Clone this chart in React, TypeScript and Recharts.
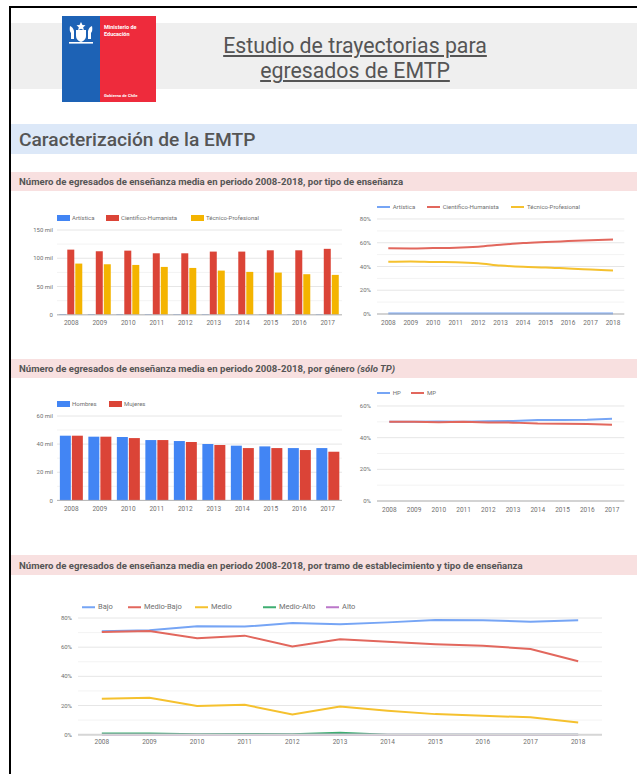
import React from 'react';
import { BarChart, Bar, LineChart, Line, XAxis, YAxis, CartesianGrid } from 'recharts';

// ---------- DATA ----------
const years = ['2008', '2009', '2010', '2011', '2012', '2013', '2014', '2015', '2016', '2017'];
const years11 = ['2008', '2009', '2010', '2011', '2012', '2013', '2014', '2015', '2016', '2017', '2018'];

// Chart 1: egresados por tipo de enseñanza (miles)
const artistica = [1.1, 1.0, 1.0, 0.9, 0.9, 0.9, 0.8, 0.8, 0.8, 0.8];
const cientificoHumanista = [115.3, 112.4, 113.5, 108.8, 108.8, 111.8, 111.8, 114.1, 114.1, 116.7];
const tecnicoProfesional = [90.6, 89.4, 88.2, 84.7, 82.9, 78.2, 75.9, 74.7, 71.8, 70.6];

// Chart 2: % por tipo de enseñanza
const artisticaPct = [0.5, 0.5, 0.5, 0.5, 0.5, 0.5, 0.5, 0.5, 0.5, 0.5, 0.5];
const cientificoHumanistaPct = [55.3, 55.2, 55.5, 55.8, 56.7, 58.3, 59.7, 60.6, 61.4, 62.2, 62.8];
const tecnicoProfesionalPct = [43.9, 44.2, 43.8, 43.6, 42.8, 40.8, 39.7, 39.2, 38.3, 37.5, 36.7];

// Chart 3: por género (sólo TP, miles)
const hombres = [46.0, 45.3, 45.1, 42.9, 42.2, 40.1, 38.9, 38.4, 37.2, 37.2];
const mujeres = [46.0, 45.3, 44.3, 42.9, 41.5, 39.4, 37.2, 37.2, 35.8, 34.6];

// Chart 4: % por género
const hpPct = [50.0, 50.0, 50.2, 50.0, 50.4, 50.5, 51.1, 51.2, 51.3, 51.9];
const mpPct = [50.0, 50.0, 49.8, 50.0, 49.6, 49.5, 48.9, 48.8, 48.7, 48.1];

// Chart 5: por tramo de establecimiento (%)
const bajo = [70.9, 71.6, 74.3, 74.1, 76.6, 75.7, 77.0, 78.6, 78.4, 77.5, 78.4];
const medioBajo = [70.4, 71.1, 66.1, 67.9, 60.4, 65.4, 63.8, 62.0, 60.9, 58.8, 50.4];
const medio = [24.6, 25.3, 19.6, 20.5, 13.9, 19.4, 16.4, 14.1, 13.0, 11.9, 8.4];
const medioAlto = [0.8, 0.8, 0.3, 0.5, 0.3, 1.3, 0, 0, 0, 0, 0];
const alto = [0, 0, 0, 0, 0, 0, 0, 0, 0, 0, 0];

// Tick values
const milTicks150 = [0, 25, 50, 75, 100, 125, 150];
const milTicks60 = [0, 10, 20, 30, 40, 50, 60];
const pctTicks80 = [0, 10, 20, 30, 40, 50, 60, 70, 80];
const pctTicks60 = [0, 10, 20, 30, 40, 50, 60];

// Labels
const tipoLabels = ['Artística', 'Científico-Humanista', 'Técnico-Profesional'];
const generoLabels = ['Hombres', 'Mujeres'];
const generoPctLabels = ['HP', 'MP'];
const tramoLabels = ['Bajo', 'Medio-Bajo', 'Medio', 'Medio-Alto', 'Alto'];

// ---------- TABLES ----------
const tipoData = years.map((y, i) => ({ year: y, a: artistica[i], ch: cientificoHumanista[i], tp: tecnicoProfesional[i] }));
const tipoPctData = years11.map((y, i) => ({ year: y, a: artisticaPct[i], ch: cientificoHumanistaPct[i], tp: tecnicoProfesionalPct[i] }));
const generoData = years.map((y, i) => ({ year: y, h: hombres[i], m: mujeres[i] }));
const generoPctData = years.map((y, i) => ({ year: y, hp: hpPct[i], mp: mpPct[i] }));
const tramoData = years11.map((y, i) => ({ year: y, b: bajo[i], mb: medioBajo[i], me: medio[i], ma: medioAlto[i], al: alto[i] }));

// ---------- STYLE ----------
const FONT = 'Roboto, "Noto Sans", sans-serif';
const TXT = '#6f6f6f';
const BLUE = '#4285f4';
const RED = '#db4437';
const YELLOW = '#f4b400';
const LBLUE = '#76a5f5';
const LRED = '#e2675d';
const LYELLOW = '#f5c12e';
const LGREEN = '#3fae72';
const LPURPLE = '#bb77c9';

const M = 10;
function frame(px: number, py: number, pw: number, ph: number, yw: number, xh: number) {
  return { left: px - yw - M, top: py - M, width: pw + yw + 2 * M, height: ph + xh + 2 * M };
}
const margin = { top: M, right: M, bottom: M, left: M };

const gridLine = (props: any) => {
  const { x1, x2, y1, y2, index } = props;
  const major = typeof index === 'number' && index % 2 === 0;
  return <line x1={x1} x2={x2} y1={y1} y2={y2} stroke={major ? '#e6e6e6' : '#f3f3f3'} strokeWidth={1} />;
};

const yTick = { fontSize: 6, fill: TXT, fontFamily: FONT };
const xTick = { fontSize: 6.5, fill: TXT, fontFamily: FONT };

const mil150Fmt = (v: number) => (v % 50 === 0 ? (v === 0 ? '0' : `${v} mil`) : '');
const mil60Fmt = (v: number) => (v % 20 === 0 ? (v === 0 ? '0' : `${v} mil`) : '');
const pctFmt = (v: number) => (v % 20 === 0 ? `${v}%` : '');

type LegendItem = { label: string; color: string; x: number };
function Legend({ items, y, kind, fontSize = 6 }: { items: LegendItem[]; y: number; kind: 'box' | 'line'; fontSize?: number }) {
  return (
    <>
      {items.map((it) => (
        <div
          key={it.label}
          style={{
            position: 'absolute',
            left: it.x,
            top: y,
            transform: 'translateY(-50%)',
            display: 'flex',
            alignItems: 'center',
            fontSize,
            lineHeight: 1,
            color: TXT,
            fontFamily: FONT,
            whiteSpace: 'nowrap',
          }}
        >
          <span style={{ display: 'inline-block', width: 13, height: kind === 'box' ? 6 : 2, background: it.color, marginRight: kind === 'box' ? 2 : 3 }} />
          <span>{it.label}</span>
        </div>
      ))}
    </>
  );
}

function Band({ top, height, color, children, fontSize, weight }: any) {
  return (
    <div
      style={{
        position: 'absolute',
        left: 11,
        top,
        width: 626,
        height,
        background: color,
        display: 'flex',
        alignItems: 'center',
        paddingLeft: 8,
        boxSizing: 'border-box',
        fontSize,
        fontWeight: weight,
        color: '#555',
        fontFamily: FONT,
        whiteSpace: 'nowrap',
      }}
    >
      {children}
    </div>
  );
}

export default function App() {
  const f1 = frame(57, 229.5, 285, 84.8, 56, 22);
  const f2 = frame(376.7, 219.3, 247.3, 95, 40, 22);
  const f3 = frame(57, 416.3, 285, 84.4, 56, 22);
  const f4 = frame(376.7, 405.7, 247.3, 95, 40, 22);
  const f5 = frame(78, 618.3, 524, 116.7, 50, 22);

  return (
    <div style={{ position: 'absolute', left: 0, top: 0, width: 637, height: 774, background: '#fff', overflow: 'hidden', fontFamily: FONT }}>
      {/* frame lines */}
      <div style={{ position: 'absolute', left: 9, top: 6, width: 628, height: 2, background: '#000' }} />
      <div style={{ position: 'absolute', left: 9, top: 6, width: 2, height: 768, background: '#000' }} />

      {/* header */}
      <div style={{ position: 'absolute', left: 11, top: 23, width: 626, height: 66, background: '#efefef' }} />
      <div style={{ position: 'absolute', left: 62, top: 16, width: 38, height: 86, background: '#1d62b5' }}>
        <svg width={38} height={30} style={{ position: 'absolute', left: 0, top: 2 }}>
          <g fill="#fff">
            <path d="M19 4 l1.5 3 3 0.3 -2.3 2 0.7 3 -2.9 -1.6 -2.9 1.6 0.7 -3 -2.3 -2 3 -0.3z" />
            <path d="M14 12 h10 v6 q0 4 -5 6 q-5 -2 -5 -6z" />
            <path d="M8 8 q3 1 4 5 l0 8 -3 0 0 -6 q-2 -2 -1 -7z" />
            <path d="M30 8 q-3 1 -4 5 l0 8 3 0 0 -6 q2 -2 1 -7z" />
            <rect x={7} y={24} width={24} height={1.6} />
          </g>
        </svg>
      </div>
      <div style={{ position: 'absolute', left: 100, top: 16, width: 56, height: 86, background: '#ee2b3c', color: '#fff', fontFamily: FONT }}>
        <div style={{ position: 'absolute', left: 4, top: 8, fontSize: 5.5, fontWeight: 700, lineHeight: '7px' }}>
          Ministerio de
          <br />
          Educación
        </div>
        <div style={{ position: 'absolute', left: 4, top: 77, fontSize: 4.2, fontWeight: 700, lineHeight: '5px', whiteSpace: 'nowrap' }}>Gobierno de Chile</div>
      </div>
      <div
        style={{
          position: 'absolute',
          left: 155,
          top: 33,
          width: 400,
          textAlign: 'center',
          fontSize: 21.3,
          lineHeight: '25px',
          color: '#555',
          textDecoration: 'underline',
          fontFamily: FONT,
        }}
      >
        Estudio de trayectorias para
        <br />
        egresados de EMTP
      </div>

      {/* section header */}
      <Band top={124} height={30} color="#dce8f8" fontSize={19.2} weight={500}>
        Caracterización de la EMTP
      </Band>

      {/* chart 1 & 2 */}
      <Band top={172} height={19} color="#f8e0e0" fontSize={9.6} weight={700}>
        Número de egresados de enseñanza media en periodo 2008-2018, por tipo de enseñanza
      </Band>

      <Legend
        kind="box"
        y={217.7}
        items={[
          { label: tipoLabels[0], color: BLUE, x: 57 },
          { label: tipoLabels[1], color: RED, x: 106 },
          { label: tipoLabels[2], color: YELLOW, x: 191 },
        ]}
      />
      <div style={{ position: 'absolute', left: f1.left, top: f1.top }}>
        <BarChart width={f1.width} height={f1.height} data={tipoData} margin={margin} barCategoryGap="8%" barGap={1}>
          <CartesianGrid vertical={false} horizontal={gridLine} />
          <XAxis dataKey="year" interval={0} tickLine={false} tickSize={0} tickMargin={6} height={22} tick={xTick} axisLine={{ stroke: '#b5b5b5' }} />
          <YAxis width={56} domain={[0, 150]} ticks={milTicks150} interval={0} tickFormatter={mil150Fmt} tickLine={false} tickSize={0} tickMargin={4} axisLine={false} tick={yTick} />
          <Bar dataKey="a" fill={BLUE} isAnimationActive={false} />
          <Bar dataKey="ch" fill={RED} isAnimationActive={false} />
          <Bar dataKey="tp" fill={YELLOW} isAnimationActive={false} />
        </BarChart>
      </div>

      <Legend
        kind="line"
        y={206.7}
        items={[
          { label: tipoLabels[0], color: LBLUE, x: 376.7 },
          { label: tipoLabels[1], color: LRED, x: 426.7 },
          { label: tipoLabels[2], color: LYELLOW, x: 511 },
        ]}
      />
      <div style={{ position: 'absolute', left: f2.left, top: f2.top }}>
        <LineChart width={f2.width} height={f2.height} data={tipoPctData} margin={margin}>
          <CartesianGrid vertical={false} horizontal={gridLine} />
          <XAxis dataKey="year" interval={0} padding={{ left: 11.3, right: 11.3 }} tickLine={false} tickSize={0} tickMargin={6} height={22} tick={xTick} axisLine={{ stroke: '#b5b5b5' }} />
          <YAxis width={40} domain={[0, 80]} ticks={pctTicks80} interval={0} tickFormatter={pctFmt} tickLine={false} tickSize={0} tickMargin={6} axisLine={false} tick={yTick} />
          <Line dataKey="a" type="monotone" stroke={LBLUE} strokeWidth={2} dot={false} isAnimationActive={false} />
          <Line dataKey="ch" type="monotone" stroke={LRED} strokeWidth={2} dot={false} isAnimationActive={false} />
          <Line dataKey="tp" type="monotone" stroke={LYELLOW} strokeWidth={2} dot={false} isAnimationActive={false} />
        </LineChart>
      </div>

      {/* chart 3 & 4 */}
      <Band top={358.5} height={19} color="#f8e0e0" fontSize={9.6} weight={700}>
        <span>
          Número de egresados de enseñanza media en periodo 2008-2018, por género <i>(sólo TP)</i>
        </span>
      </Band>

      <Legend
        kind="box"
        y={404.3}
        items={[
          { label: generoLabels[0], color: BLUE, x: 57 },
          { label: generoLabels[1], color: RED, x: 109 },
        ]}
      />
      <div style={{ position: 'absolute', left: f3.left, top: f3.top }}>
        <BarChart width={f3.width} height={f3.height} data={generoData} margin={margin} barCategoryGap="10%" barGap={1}>
          <CartesianGrid vertical={false} horizontal={gridLine} />
          <XAxis dataKey="year" interval={0} tickLine={false} tickSize={0} tickMargin={6} height={22} tick={xTick} axisLine={{ stroke: '#b5b5b5' }} />
          <YAxis width={56} domain={[0, 60]} ticks={milTicks60} interval={0} tickFormatter={mil60Fmt} tickLine={false} tickSize={0} tickMargin={4} axisLine={false} tick={yTick} />
          <Bar dataKey="h" fill={BLUE} isAnimationActive={false} />
          <Bar dataKey="m" fill={RED} isAnimationActive={false} />
        </BarChart>
      </div>

      <Legend
        kind="line"
        y={393.3}
        items={[
          { label: generoPctLabels[0], color: LBLUE, x: 376.7 },
          { label: generoPctLabels[1], color: LRED, x: 411 },
        ]}
      />
      <div style={{ position: 'absolute', left: f4.left, top: f4.top }}>
        <LineChart width={f4.width} height={f4.height} data={generoPctData} margin={margin}>
          <CartesianGrid vertical={false} horizontal={gridLine} />
          <XAxis dataKey="year" interval={0} padding={{ left: 12.3, right: 12.3 }} tickLine={false} tickSize={0} tickMargin={6} height={22} tick={xTick} axisLine={{ stroke: '#b5b5b5' }} />
          <YAxis width={40} domain={[0, 60]} ticks={pctTicks60} interval={0} tickFormatter={pctFmt} tickLine={false} tickSize={0} tickMargin={6} axisLine={false} tick={yTick} />
          <Line dataKey="hp" type="linear" stroke={LBLUE} strokeWidth={2} dot={false} isAnimationActive={false} />
          <Line dataKey="mp" type="linear" stroke={LRED} strokeWidth={2} dot={false} isAnimationActive={false} />
        </LineChart>
      </div>

      {/* chart 5 */}
      <Band top={555} height={20} color="#f8e0e0" fontSize={9.6} weight={700}>
        Número de egresados de enseñanza media en periodo 2008-2018, por tramo de establecimiento y tipo de enseñanza
      </Band>

      <Legend
        kind="line"
        y={607.3}
        fontSize={7.5}
        items={[
          { label: tramoLabels[0], color: LBLUE, x: 82 },
          { label: tramoLabels[1], color: LRED, x: 128 },
          { label: tramoLabels[2], color: LYELLOW, x: 195 },
          { label: tramoLabels[3], color: LGREEN, x: 263 },
          { label: tramoLabels[4], color: LPURPLE, x: 326 },
        ]}
      />
      <div style={{ position: 'absolute', left: f5.left, top: f5.top }}>
        <LineChart width={f5.width} height={f5.height} data={tramoData} margin={margin}>
          <CartesianGrid vertical={false} horizontal={gridLine} />
          <XAxis dataKey="year" interval={0} padding={{ left: 23.8, right: 23.8 }} tickLine={false} tickSize={0} tickMargin={5} height={22} tick={xTick} axisLine={{ stroke: '#d6d6d6', strokeWidth: 2 }} />
          <YAxis width={50} domain={[0, 80]} ticks={pctTicks80} interval={0} tickFormatter={pctFmt} tickLine={false} tickSize={0} tickMargin={6} axisLine={false} tick={yTick} />
          <Line dataKey="b" type="linear" stroke={LBLUE} strokeWidth={2} dot={false} isAnimationActive={false} />
          <Line dataKey="mb" type="linear" stroke={LRED} strokeWidth={2} dot={false} isAnimationActive={false} />
          <Line dataKey="me" type="linear" stroke={LYELLOW} strokeWidth={2} dot={false} isAnimationActive={false} />
          <Line dataKey="ma" type="linear" stroke={LGREEN} strokeWidth={2} dot={false} isAnimationActive={false} />
          <Line dataKey="al" type="linear" stroke={LPURPLE} strokeWidth={2} dot={false} isAnimationActive={false} />
        </LineChart>
      </div>
    </div>
  );
}
